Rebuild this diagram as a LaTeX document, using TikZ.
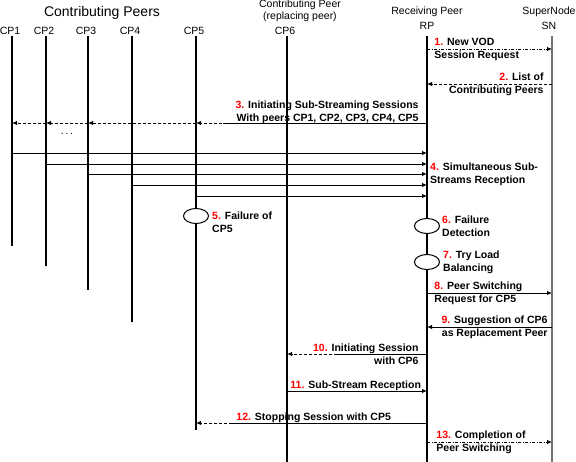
\documentclass[tikz,border=0pt]{standalone}
\usepackage{fontspec}
\setmainfont{Liberation Sans}
\usepackage{tikz}
\usetikzlibrary{
  arrows.meta,
  positioning,
  shapes.geometric,
}
\newcommand\lblfont{\fontsize{10.5}{13}\selectfont\bfseries}
\newcommand\headfont{\fontsize{10.5}{12}\selectfont}
\newcommand\groupfont{\fontsize{14}{16}\selectfont}
\newcommand\stepno[1]{\textcolor{red}{#1}}
\tikzstyle{msg} = [
  -{Latex[length=5pt,width=4.5pt]},
  line width=0.9pt,
]

\begin{document}
\begin{tikzpicture}[
      x=1pt, y=-1pt,
      lifeline/.style={line width=1.1pt},
      supline/.style={line width=1.8pt, black!55},
      reply/.style={msg, dash pattern=on 3pt off 2pt},
      notify/.style={msg, dash pattern=on 3pt off 1.5pt on 1pt off 1.5pt},
      plainseg/.style={line width=0.9pt},
      lbl/.style={font=\lblfont, inner sep=0pt, align=left},
      head/.style={font=\headfont, inner sep=0pt},
      event/.style={ellipse, draw, fill=white, line width=1pt, minimum width=25pt, minimum height=15pt, inner sep=0pt},
    ]
      \useasboundingbox (0,0) rectangle (576,462);
      % lifelines
      \foreach \n/\x/\b/\t in {cp1/12/246/CP1, cp2/46/266/CP2, cp3/88/290/CP3, cp4/132/322/CP4, cp5/196/430/CP5, cp6/287/462/CP6} {
        \coordinate (\n) at (\x,36);
        \coordinate (\n-end) at (\x,\b);
        \node [head] (\n-name) at (\x-2,31) {\t};
        \draw [lifeline] (\n) -- (\n-end);
      }
      \coordinate (rp) at (427,36);
      \coordinate (sn) at (552,36);
      \draw [lifeline] (rp) -- (rp |- 0,462);
      \draw [supline] (sn) -- (sn |- 0,462);
      \node [head, font=\groupfont] (peers) at (102,12.5) {Contributing Peers};
      \node [head, align=center] (cp6-role) at (300,11) {Contributing Peer\\(replacing peer)};
      \node [head] (rp-role) at (427,12) {Receiving Peer};
      \node [head] (rp-name) at (427,26) {RP};
      \node [head] (sn-role) at (549,12) {SuperNode};
      \node [head] (sn-name) at (549,26) {SN};
      % 1, 2
      \draw [notify] (rp |- 0,49) -- node [lbl, at start, right=7pt] {\stepno{1.} New VOD\\Session Request} (sn |- 0,49);
      \draw [reply] (sn |- 0,84) -- node [lbl, align=right, at start, left=8pt] {\stepno{2.} List of\\Contributing Peers} (rp |- 0,84);
      % 3
      \coordinate (split3) at (223,123);
      \foreach \a/\b in {rp/cp5, cp5/cp3, cp3/cp2, cp2/cp1}
        \draw [reply] (\a |- split3) -- (\b |- split3);
      \draw [plainseg] (rp |- split3) -- node [lbl, align=right, at start, left=8pt, yshift=11pt] {\stepno{3.} Initiating Sub-Streaming Sessions\\With peers CP1, CP2, CP3, CP4, CP5} (split3);
      \node [head] (gap) at (67,134) {.\,.\,.};
      % 4
      \foreach \n/\y in {cp1/153, cp2/164, cp3/174, cp4/185, cp5/196}
        \draw [msg] (\n |- 0,\y) -- (rp |- 0,\y);
      \path (rp |- 0,174) node [lbl, right=3pt] (recv4) {\stepno{4.} Simultaneous Sub-\\Streams Reception};
      % 5, 6, 7
      \node [event] (fail5) at (cp5 |- 0,216) {};
      \node [lbl, right=3pt of fail5, yshift=-6pt] (fail5-txt) {\stepno{5.} Failure of\\CP5};
      \node [event] (detect) at (rp |- 0,226) {};
      \node [lbl, right=2pt of detect] (detect-txt) {\stepno{6.} Failure\\Detection};
      \node [event] (balance) at (rp |- 0,262) {};
      \node [lbl, right=3pt of balance] (balance-txt) {\stepno{7.} Try Load\\Balancing};
      % 8, 9
      \draw [msg] (rp |- 0,293) -- node [lbl, at start, right=7pt] {\stepno{8.} Peer Switching\\Request for CP5} (sn |- 0,293);
      \draw [msg] (sn |- 0,327) -- node [lbl, align=right, at start, left=4pt] {\stepno{9.} Suggestion of CP6\\as Replacement Peer} (rp |- 0,327);
      % 10, 11, 12
      \coordinate (split10) at (337,354);
      \draw [reply] (rp |- split10) -- (cp6 |- split10);
      \draw [plainseg] (rp |- split10) -- node [lbl, align=right, at start, left=8pt] {\stepno{10.} Initiating Session\\with CP6} (split10);
      \draw [msg] (cp6 |- 0,391) -- node [lbl, at start, anchor=south west, xshift=3pt] {\stepno{11.} Sub-Stream Reception} (rp |- 0,391);
      \coordinate (split12) at (230,423);
      \draw [reply] (rp |- split12) -- (cp5 |- split12);
      \draw [plainseg] (rp |- split12) -- node [lbl, at end, anchor=south west, xshift=6pt] {\stepno{12.} Stopping Session with CP5} (split12);
      % 13
      \draw [notify] (rp |- 0,442) -- node [lbl, at start, right=9pt] {\stepno{13.} Completion of\\Peer Switching} (sn |- 0,442);
    \end{tikzpicture}
\end{document}
